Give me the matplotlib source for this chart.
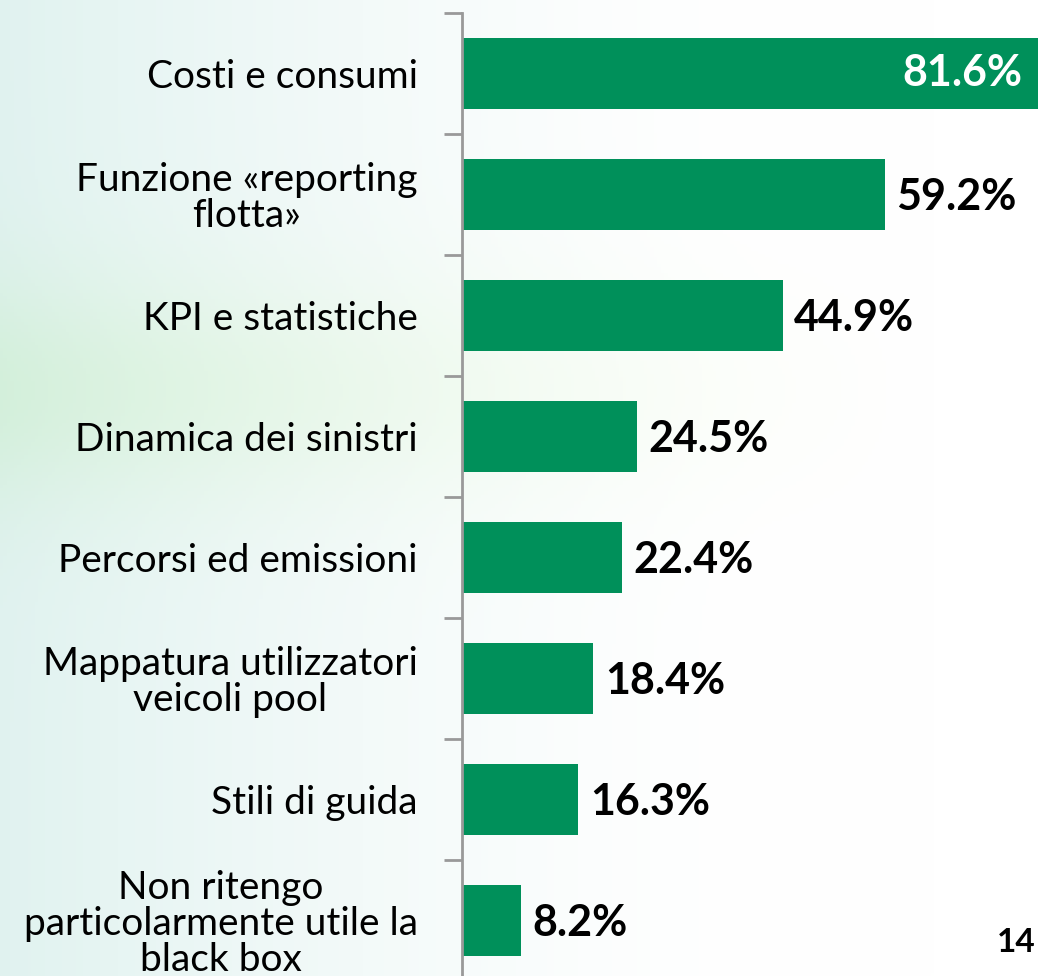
import numpy as np
import matplotlib.pyplot as plt

# data
categories = [
    "Costi e consumi",
    "Funzione «reporting\nflotta»",
    "KPI e statistiche",
    "Dinamica dei sinistri",
    "Percorsi ed emissioni",
    "Mappatura utilizzatori\nveicoli pool",
    "Stili di guida",
    "Non ritengo\nparticolarmente utile la\nblack box",
]
values = [81.6, 59.2, 44.9, 24.5, 22.4, 18.4, 16.3, 8.2]
value_labels = ["81.6%", "59.2%", "44.9%", "24.5%", "22.4%", "18.4%", "16.3%", "8.2%"]
page_number = "14"

bar_color = "#00905a"
plt.rcParams["font.family"] = ["Lato", "DejaVu Sans"]

W, H = 1038, 976
fig = plt.figure(figsize=(W / 100, H / 100), dpi=100)
fig.patch.set_facecolor("white")

# faint background wash
bg = fig.add_axes([0, 0, 1, 1], zorder=-1)
xx = np.linspace(0, 1, 300)
yy = np.linspace(0, 1, 300)
X, Y = np.meshgrid(xx, yy)
fade = np.clip(1 - X / 0.75, 0, 1) ** 1.5
band = np.exp(-((Y - 0.40) / 0.12) ** 2) * np.clip(1 - X / 0.9, 0, 1)
img = np.ones((300, 300, 3))
img[..., 0] -= 0.12 * fade + 0.05 * band
img[..., 1] -= 0.05 * fade + 0.01 * band
img[..., 2] -= 0.06 * fade + 0.08 * band
bg.imshow(np.clip(img, 0, 1), extent=[0, 1, 0, 1], aspect="auto", origin="upper")
bg.axis("off")

# main axes
left = 462 / W
top = 13 / H
bottom = 981 / H
ax = fig.add_axes([left, 1 - bottom, 1 - left, bottom - top])
ax.patch.set_alpha(0)

px_per_unit = (885 - 462) / 59.2
ax.set_xlim(0, (W - 462) / px_per_unit)

y = np.arange(len(categories))
ax.barh(y, values, height=0.58, color=bar_color)
ax.set_ylim(len(categories) - 0.5, -0.5)

for i, (v, lab) in enumerate(zip(values, value_labels)):
    if i == 0:
        # first bar runs off the edge, label sits inside it
        ax.text(v - 3.2, i, lab, ha="right", va="center", color="white",
                fontsize=31, fontweight="bold")
    else:
        ax.text(v + 1.6, i + 0.02, lab, ha="left", va="center", color="black",
                fontsize=31, fontweight="bold")

ax.set_yticks(y)
ax.set_yticklabels(categories, fontsize=28, multialignment="center", linespacing=1.0)
ax.set_yticks(np.arange(len(categories) + 1) - 0.5, minor=True)
ax.tick_params(axis="y", which="major", length=0, pad=32)
ax.tick_params(axis="y", which="minor", length=13, width=2, color="#999999")
ax.set_xticks([])
for s in ["top", "right", "bottom"]:
    ax.spines[s].set_visible(False)
ax.spines["left"].set_color("#999999")
ax.spines["left"].set_linewidth(2)

fig.text(997 / W, 1 - 943 / H, page_number, ha="left", va="center",
         fontsize=24, fontweight="bold")

fig.savefig("out.png", dpi=100)
